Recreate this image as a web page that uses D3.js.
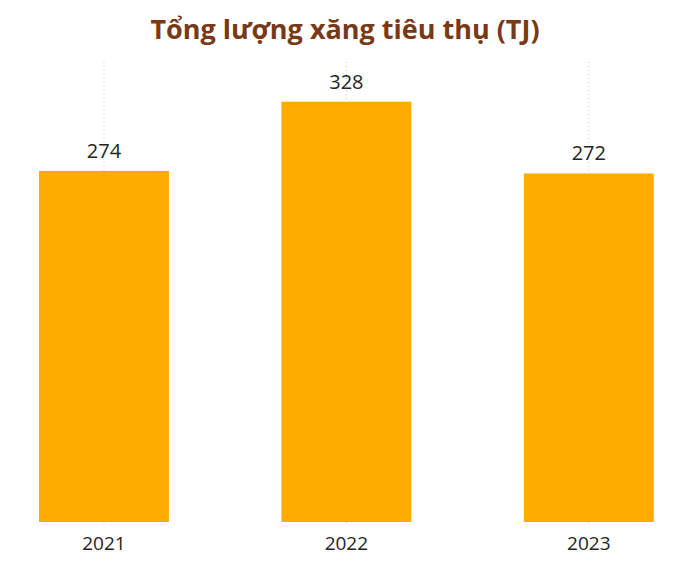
<!DOCTYPE html>
<html>
<head>
<meta charset="utf-8">
<script src="https://cdn.jsdelivr.net/npm/d3@7"></script>
<style>
  body { margin: 0; background: #fff; }
  svg { font-family: "Open Sans", sans-serif; }
</style>
</head>
<body>
<svg width="674" height="563"></svg>
<script>
var years = ["2021", "2022", "2023"];
var values = [274, 328, 272];
var title = "Tổng lượng xăng tiêu thụ (TJ)";

var svg = d3.select("svg");

var plotBottom = 522, plotTop = 62;

// y scale: 0 at bar base
var y = d3.scaleLinear()
    .domain([0, 359])
    .range([plotBottom, plotTop]);

var x = d3.scaleBand()
    .domain(years)
    .range([-17.25, 710])
    .paddingInner(0.464)
    .paddingOuter(0.232);

// title
svg.append("text")
    .attr("x", 345)
    .attr("y", 39)
    .attr("text-anchor", "middle")
    .style("font-size", "27px")
    .style("font-weight", "bold")
    .style("fill", "#7a3916")
    .text(title);

// dotted gridlines at category centers
svg.append("g")
    .selectAll("line")
    .data(years)
    .enter().append("line")
    .attr("x1", function(d) { return x(d) + x.bandwidth() / 2; })
    .attr("x2", function(d) { return x(d) + x.bandwidth() / 2; })
    .attr("y1", plotTop)
    .attr("y2", plotBottom + 3)
    .style("stroke", "#c8c8c8")
    .style("stroke-width", 1)
    .style("stroke-dasharray", "1,3");

// bars
svg.append("g")
    .selectAll("rect")
    .data(values)
    .enter().append("rect")
    .attr("x", function(d, i) { return x(years[i]); })
    .attr("y", function(d) { return y(d); })
    .attr("width", x.bandwidth())
    .attr("height", function(d) { return plotBottom - y(d); })
    .style("fill", "#ffab00");

// value labels
svg.append("g")
    .selectAll("text")
    .data(values)
    .enter().append("text")
    .attr("x", function(d, i) { return x(years[i]) + x.bandwidth() / 2; })
    .attr("y", function(d) { return y(d) - 13; })
    .attr("text-anchor", "middle")
    .style("font-size", "20px")
    .style("fill", "#252423")
    .text(function(d) { return d; });

// x axis labels
var xAxis = d3.axisBottom(x).tickSize(0).tickPadding(15);
var ax = svg.append("g")
    .attr("transform", "translate(0," + plotBottom + ")")
    .call(xAxis);
ax.select(".domain").remove();
ax.selectAll("text")
    .style("font-family", "'Open Sans', sans-serif")
    .style("font-size", "19px")
    .style("fill", "#252423");
</script>
</body>
</html>
